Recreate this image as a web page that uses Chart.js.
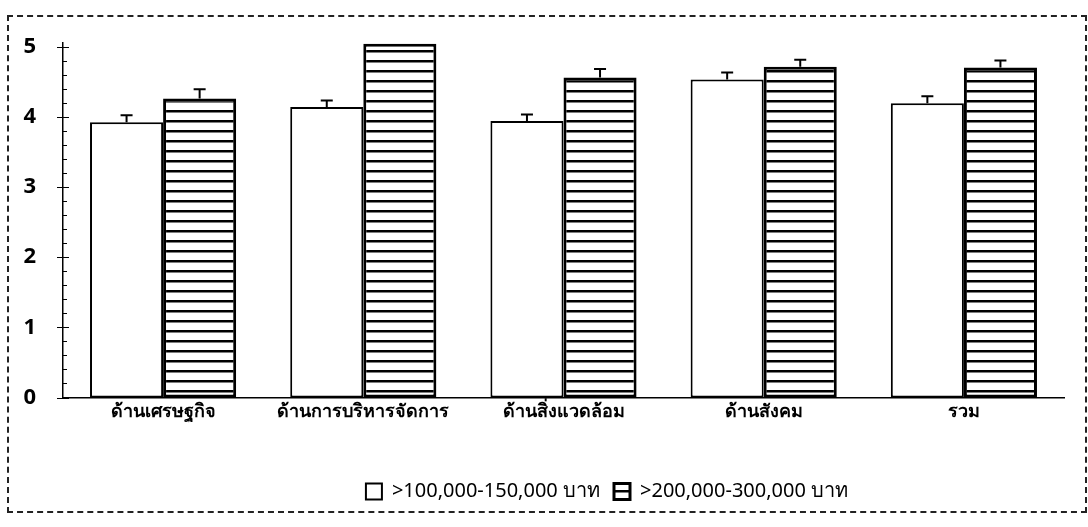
<!DOCTYPE html>
<html>
<head>
<meta charset="utf-8">
<script src="https://cdn.jsdelivr.net/npm/chart.js@4"></script>
<style>
  body { margin: 0; background: #fff; }
  #wrap { position: relative; width: 1088px; height: 527px; }
  #frame {
    position: absolute; left: 7px; top: 15px; width: 1076px; height: 494px;
    border: 2px dashed #222; pointer-events: none;
  }
</style>
</head>
<body>
<div id="wrap">
  <canvas id="myChart"></canvas>
  <div id="frame"></div>
</div>
<script>
const categories = ['ด้านเศรษฐกิจ', 'ด้านการบริหารจัดการ', 'ด้านสิ่งแวดล้อม', 'ด้านสังคม', 'รวม'];
const seriesLabels = ['>100,000-150,000 บาท', '>200,000-300,000 บาท'];
const lowIncome = [3.92, 4.14, 3.94, 4.53, 4.19];
const lowIncomeErr = [0.10, 0.09, 0.09, 0.10, 0.10];
const highIncome = [4.26, 5.04, 4.56, 4.71, 4.70];
const highIncomeErr = [0.13, 0, 0.12, 0.10, 0.10];
const yTicks = [0, 1, 2, 3, 4, 5];

const FONT = "Tahoma, 'Noto Sans', 'DejaVu Sans', sans-serif";

// motif de hachures horizontales
function makeHatch() {
  const c = document.createElement('canvas');
  c.width = 10; c.height = 10;
  const g = c.getContext('2d');
  g.fillStyle = '#fff';
  g.fillRect(0, 0, 10, 10);
  g.fillStyle = '#000';
  g.fillRect(0, 0, 10, 2.5);
  return g.createPattern(c, 'repeat');
}
const hatch = makeHatch();

const errors = [lowIncomeErr, highIncomeErr];

// barres d'erreur (seulement vers le haut)
const errorBars = {
  id: 'errorBars',
  afterDatasetsDraw(chart) {
    const ctx = chart.ctx;
    const y = chart.scales.y;
    ctx.save();
    ctx.strokeStyle = '#000';
    ctx.lineWidth = 2;
    chart.data.datasets.forEach((ds, i) => {
      const meta = chart.getDatasetMeta(i);
      meta.data.forEach((bar, j) => {
        const err = errors[i][j];
        if (!err) return;
        const top = y.getPixelForValue(ds.data[j]);
        const end = y.getPixelForValue(ds.data[j] + err);
        ctx.beginPath();
        ctx.moveTo(bar.x, top);
        ctx.lineTo(bar.x, end);
        ctx.moveTo(bar.x - 6, end);
        ctx.lineTo(bar.x + 6, end);
        ctx.stroke();
      });
    });
    ctx.restore();
  }
};

// petites graduations sur l'axe Y
const minorTicks = {
  id: 'minorTicks',
  afterDraw(chart) {
    const ctx = chart.ctx;
    const y = chart.scales.y;
    const x0 = chart.chartArea.left;
    ctx.save();
    ctx.strokeStyle = '#000';
    ctx.lineWidth = 1;
    for (let k = 0; k <= 25; k++) {
      const py = Math.round(y.getPixelForValue(k / 5)) + 0.5;
      const major = k % 5 === 0;
      ctx.beginPath();
      ctx.moveTo(major ? x0 - 6 : x0, py);
      ctx.lineTo(x0 + (major ? 6 : 4), py);
      ctx.stroke();
    }
    ctx.restore();
  }
};

// la légende est décalée vers la droite dans l'original
const legendShift = {
  id: 'legendShift',
  afterLayout(chart) {
    chart.legend.left += 75;
    chart.legend.right += 75;
  }
};

new Chart(document.getElementById('myChart'), {
  type: 'bar',
  data: {
    labels: categories,
    datasets: [{
      label: seriesLabels[0],
      data: lowIncome,
      backgroundColor: '#fff',
      borderColor: '#000',
      borderWidth: 2,
      borderSkipped: false
    }, {
      label: seriesLabels[1],
      data: highIncome,
      backgroundColor: hatch,
      borderColor: '#000',
      borderWidth: 3,
      borderSkipped: false
    }]
  },
  options: {
    responsive: true,
    maintainAspectRatio: false,
    animation: false,
    datasets: { bar: { categoryPercentage: 0.73, barPercentage: 1 } },
    layout: { padding: { left: 0, right: 24, top: 43, bottom: 15.5 } },
    plugins: {
      legend: {
        position: 'bottom',
        labels: {
          color: '#000',
          font: { family: FONT, size: 20 },
          boxWidth: 16,
          boxHeight: 16,
          padding: 14
        }
      },
      tooltip: { enabled: false }
    },
    scales: {
      x: {
        grid: { display: false },
        border: { color: '#000', width: 1.5, dash: [5, 2] },
        ticks: { color: '#000', font: { family: FONT, size: 18, weight: 'bold' }, padding: -4 },
        afterFit: s => { s.height = 70; }
      },
      y: {
        min: 0,
        max: 5.05,
        afterBuildTicks: s => { s.ticks = yTicks.map(v => ({ value: v })); },
        grid: { display: false },
        border: { color: '#000', width: 1.5, dash: [4, 2] },
        ticks: { color: '#000', font: { family: FONT, size: 22, weight: 'bold' }, padding: 19 },
        afterFit: s => { s.width = 63; }
      }
    }
  },
  plugins: [errorBars, minorTicks, legendShift]
});
</script>
</body>
</html>
